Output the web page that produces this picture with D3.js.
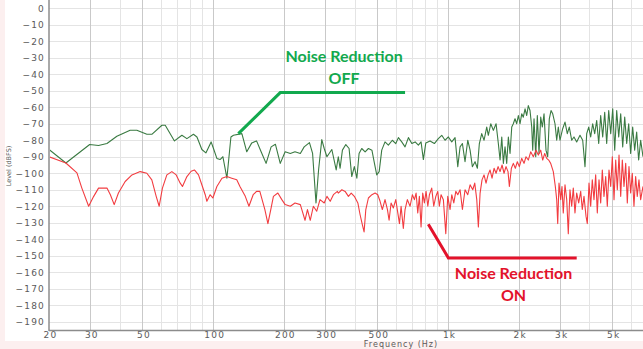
<!DOCTYPE html>
<html>
<head>
<meta charset="utf-8">
<script src="https://cdn.jsdelivr.net/npm/d3@7"></script>
<style>
  html, body { margin: 0; padding: 0; background: #fcefef; }
  svg { display: block; }
</style>
</head>
<body>
<svg id="chart" width="643" height="349"></svg>
<script>
// Spectrum levels: [frequency (Hz), level (dBFS)]
const noiseReductionOff = [
  [20,-85.6],[23.6,-93.8],[29.8,-82.6],[32.5,-83.2],[35.3,-82],[38.9,-77.6],[44.3,-73.9],[47.3,-73.9],
  [52.2,-76.4],[54.8,-76.4],[60.5,-70.9],[62.5,-70.9],[68.4,-80.4],[73.6,-77],[77.3,-79],[82.4,-76.4],
  [85.3,-78],[89.5,-85.6],[93.1,-87.7],[98,-81],[100.3,-85],[103.7,-91],[107,-91.7],[110,-90],
  [114.4,-103],[119,-78],[122,-77],[132.5,-76],[139,-87],[146,-81.6],[153,-80.4],[160,-87],[168,-94],
  [176.5,-84],[184,-82.4],[193,-94],[202.5,-87],[213,-88],[223,-87],[235,-88],[244,-84],[257,-81.4],
  [265,-88],[274,-118],[281,-98],[290,-79.6],[297,-85],[305,-90],[320,-85.6],[334,-98],[341,-90],
  [347,-97],[355,-86],[367,-82.6],[379,-85],[389,-102],[399,-96],[409,-103],[418,-88],[429,-85],
  [443.5,-87],[458,-85],[474,-86],[486,-94],[497,-101],[509,-99],[522,-86],[539,-81],[557,-83],
  [579,-80],[599,-82],[614.5,-78.4],[635,-81],[656,-84],[678,-78.4],[701,-82],[724,-81],[747.5,-83],
  [767.5,-81],[785,-91.7],[804,-81.6],[838,-80.4],[874.5,-82],[909,-79],[940,-77],[971,-80],
  [1003,-78],[1037,-81],[1071,-78.4],[1100,-96],[1125,-84],[1151,-82],[1181,-93],[1213,-80],
  [1241,-86],[1269,-96],[1303,-93],[1333,-97],[1359,-82],[1391,-76],[1423,-80],[1461,-72],[1484,-77],
  [1520,-70],[1559,-74],[1601,-70],[1637,-82],[1665,-92],[1693,-78],[1720,-94],[1748,-84],[1777,-94],
  [1806,-78],[1836,-88],[1867,-72],[1896,-70],[1928,-67],[1960,-70],[1992,-65],[2025,-70],[2059,-64],
  [2091,-66],[2127,-61],[2162,-65],[2196,-59],[2233,-62],[2271,-72],[2293,-86],[2323,-67],[2362,-90],
  [2399,-65],[2439,-88],[2480,-66],[2520,-72],[2562,-64],[2612,-86],[2656,-90],[2698,-67],[2744,-62],
  [2790,-64],[2853,-70],[2901,-80],[2947,-72],[2996,-80],[3076,-73],[3147,-69],[3219,-76],[3282,-72],
  [3360,-80],[3437,-78],[3529,-81],[3645,-77],[3743,-80],[3828,-96],[3893,-76],[3970,-72],[4048,-78],
  [4128,-70],[4210,-76],[4294,-68],[4379,-82],[4465,-65],[4554,-78],[4644,-63],[4736,-82],[4830,-62],
  [4926,-76],[5024,-61],[5123,-86],[5224,-62],[5328,-78],[5433,-64],[5541,-84],[5650,-66],[5762,-82],
  [5875,-70],[5990,-88],[6109,-72],[6230,-86],[6353,-75],[6478,-92],[6607,-80],[6760,-90]
];

const noiseReductionOn = [
  [20,-90],[23.6,-93.8],[26.3,-99.8],[27.6,-109],[29.5,-120],[31,-114],[32.5,-109],[35.3,-109],
  [36.5,-113],[37.9,-119],[39.5,-112],[42.2,-105],[45.1,-101],[48.9,-99],[52.2,-100],[54.8,-104],
  [57.2,-114],[58.9,-120],[60.8,-109],[63.5,-101],[66.7,-99],[69.6,-101],[72.4,-106],[74,-108],
  [77.3,-102],[80.6,-98.8],[83.2,-98],[86.6,-101],[90,-108],[92.5,-113],[94,-117],[97,-113],
  [99.7,-115],[103.7,-108],[109,-103],[114.4,-102],[120,-103],[126,-104],[130,-108],[137,-114],
  [142,-120],[148,-113],[153,-111],[158,-111],[163,-118],[166,-122],[171,-130.5],[176.5,-121],
  [180.5,-114],[188.5,-112],[196,-116],[202.5,-119],[213,-120],[223,-118],[235,-119],[238.5,-122],
  [246,-128.5],[252,-122],[259,-128.5],[267,-120],[276,-123],[285,-116],[297,-118],[305,-114],
  [315,-117],[325,-113],[338,-111],[341,-112],[353,-110],[364.5,-111],[376.5,-114],[387,-112],
  [399,-114],[413,-118],[422,-125],[432,-131.5],[439,-135.6],[446.5,-122],[458,-115],[474,-113],
  [489,-112],[502,-113],[513.5,-117],[525,-122],[539,-116],[552,-122],[561,-128.5],[572,-118],
  [585,-121],[599,-116],[611,-124],[621,-130.5],[631,-120],[645,-133.5],[656,-122],[671,-116],
  [689,-120],[705,-113],[719,-116],[731,-112],[743,-124],[755,-114],[767.5,-132.5],[780,-112],
  [793,-118],[806,-111],[820,-120],[833,-113],[852,-109],[869,-120],[887,-114],[904,-111],[918,-120],
  [934,-113],[955,-116],[978,-136.6],[997,-114],[1020,-122],[1037,-113],[1058,-118],[1079,-111],
  [1100,-113],[1125,-110],[1151,-122],[1181,-110],[1213,-113],[1241,-107],[1274,-110],[1299,-106],
  [1325,-116],[1346,-132.5],[1369,-112],[1395,-104],[1423,-101],[1451,-106],[1480,-101],[1509,-98],
  [1539,-103],[1570,-97],[1601,-100],[1633,-96],[1665,-99],[1698,-95],[1731,-100],[1765,-96],
  [1800,-99],[1824,-108],[1860,-97],[1896,-94],[1934,-97],[1972,-93],[2011,-96],[2059,-91],
  [2106,-94],[2147,-90],[2196,-92],[2248,-87],[2307,-90],[2369,-86],[2423,-89],[2480,-86],
  [2529,-92],[2579,-88],[2630,-91],[2682,-92],[2735,-94],[2806,-99],[2862,-108],[2901,-116],
  [2930,-130.5],[2967,-106],[3017,-116],[3055,-108],[3094,-124],[3147,-107],[3200,-116],[3250,-136.6],
  [3304,-110],[3360,-120],[3413,-109],[3470,-124],[3529,-112],[3599,-118],[3670,-111],[3728,-122],
  [3791,-114],[3866,-126],[3916,-130.5],[3981,-106],[4048,-120],[4112,-104],[4181,-116],[4251,-101],
  [4319,-124],[4392,-104],[4465,-118],[4536,-98],[4612,-114],[4690,-102],[4764,-120],[4844,-98],
  [4926,-108],[5004,-90],[5088,-116],[5173,-92],[5255,-110],[5344,-89],[5433,-114],[5519,-92],
  [5611,-108],[5706,-94],[5796,-118],[5892,-96],[5990,-112],[6085,-100],[6187,-120],[6290,-102],
  [6390,-114],[6498,-104],[6607,-116],[6760,-108]
];

// Axis ticks
const freqTicks = [20, 30, 50, 100, 200, 300, 500, 1000, 2000, 3000, 5000];
const freqTickLabels = ["20", "30", "50", "100", "200", "300", "500", "1k", "2k", "3k", "5k"];
const minorFreqGrid = [40, 60, 70, 80, 90, 400, 600, 700, 800, 900, 4000, 6000];
const levelTicks = d3.range(0, -200, -10);

// Callouts: leader line points in [Hz, dBFS], labels
const offCallout = { lines: ["Noise Reduction", "OFF"], path: [[128, -76], [193, -51.1], [656, -51.1]], at: [361, -32.5] };
const onCallout  = { lines: ["Noise Reduction", "ON"],  path: [[824, -130.9], [1003, -151.3], [3529, -151.3]], at: [1900, -163.8] };

const W = 643, H = 349;
const plot = { left: 49, right: 643, top: 0, bottom: 330 };

const svg = d3.select("#chart");

const x = d3.scaleLog().domain([20, 6760]).range([plot.left, plot.right]);
const y = d3.scaleLinear().domain([-195, 5]).range([plot.bottom, plot.top]);

// Page background
svg.append("rect").attr("x", 5).attr("y", 0).attr("width", W - 5).attr("height", 341).attr("fill", "#ffffff");

// Grid
const grid = svg.append("g");
grid.selectAll("line.h").data(levelTicks).join("line")
  .attr("x1", plot.left).attr("x2", plot.right)
  .attr("y1", d => Math.round(y(d)) + 0.5).attr("y2", d => Math.round(y(d)) + 0.5)
  .attr("stroke", "#e4e4e4").attr("stroke-width", 1);
grid.selectAll("line.vm").data(minorFreqGrid).join("line")
  .attr("x1", d => Math.round(x(d)) + 0.5).attr("x2", d => Math.round(x(d)) + 0.5)
  .attr("y1", plot.top).attr("y2", plot.bottom)
  .attr("stroke", "#e4e4e4").attr("stroke-width", 1);
grid.selectAll("line.vM").data(freqTicks.slice(1)).join("line")
  .attr("x1", d => Math.round(x(d)) + 0.5).attr("x2", d => Math.round(x(d)) + 0.5)
  .attr("y1", plot.top).attr("y2", plot.bottom)
  .attr("stroke", "#c9c9c9").attr("stroke-width", 1);

// Axes
const yAxis = d3.axisLeft(y).tickValues(levelTicks).tickSize(0).tickPadding(5).tickFormat(d3.format("d"));
const xAxis = d3.axisBottom(x).tickValues(freqTicks).tickSize(0).tickPadding(2)
  .tickFormat((d, i) => freqTickLabels[i]);

const gy = svg.append("g").attr("transform", `translate(${plot.left},0)`).call(yAxis);
const gx = svg.append("g").attr("transform", `translate(0,${plot.bottom})`).call(xAxis);
[gx, gy].forEach(g => {
  g.select(".domain").remove();
  g.selectAll("text").attr("font-family", "DejaVu Sans, Verdana, sans-serif")
    .attr("font-size", 9).attr("fill", "#5a5a5a").style("letter-spacing", "1.2px");
});
gy.selectAll("text").attr("dx", 1);
gx.selectAll("text").attr("dx", 1);

svg.append("line").attr("x1", plot.left).attr("x2", plot.left).attr("y1", 0).attr("y2", plot.bottom + 1)
  .attr("stroke", "#8c8c8c").attr("stroke-width", 1.5);
svg.append("line").attr("x1", plot.left).attr("x2", plot.right).attr("y1", plot.bottom + 0.5).attr("y2", plot.bottom + 0.5)
  .attr("stroke", "#8c8c8c").attr("stroke-width", 1.5);

// Axis titles
svg.append("text").attr("x", 401).attr("y", 347).attr("text-anchor", "middle")
  .attr("font-family", "DejaVu Sans, Verdana, sans-serif").attr("font-size", 8).attr("fill", "#5a5a5a")
  .style("letter-spacing", "1px").text("Frequency (Hz)");
svg.append("text").attr("transform", "translate(11,166) rotate(-90)").attr("text-anchor", "middle")
  .attr("font-family", "DejaVu Sans, Verdana, sans-serif").attr("font-size", 6.5).attr("fill", "#5a5a5a")
  .text("Level (dBFS)");

// Spectra
svg.append("clipPath").attr("id", "plotClip").append("rect")
  .attr("x", plot.left + 1).attr("y", plot.top).attr("width", plot.right - plot.left).attr("height", plot.bottom - plot.top);

const line = d3.line().x(d => x(d[0])).y(d => y(d[1]));
const traces = svg.append("g").attr("clip-path", "url(#plotClip)");
traces.append("path").datum(noiseReductionOff).attr("d", line)
  .attr("fill", "none").attr("stroke", "#3a7a42").attr("stroke-width", 1.1).attr("stroke-linejoin", "round");
traces.append("path").datum(noiseReductionOn).attr("d", line)
  .attr("fill", "none").attr("stroke", "#f23c40").attr("stroke-width", 1.1).attr("stroke-linejoin", "round");

// Callouts
function callout(c, color) {
  svg.append("path").datum(c.path).attr("d", line)
    .attr("fill", "none").attr("stroke", color).attr("stroke-width", 3);
  const t = svg.append("text").attr("x", x(c.at[0])).attr("y", y(c.at[1])).attr("text-anchor", "middle")
    .attr("font-family", "Lato, 'Open Sans', sans-serif").attr("font-weight", "bold")
    .attr("font-size", 16).attr("fill", color);
  c.lines.forEach((s, i) => t.append("tspan").attr("x", x(c.at[0])).attr("dy", i ? 22 : 0).text(s));
}
callout(offCallout, "#12a94e");
callout(onCallout, "#e3122b");
</script>
</body>
</html>
